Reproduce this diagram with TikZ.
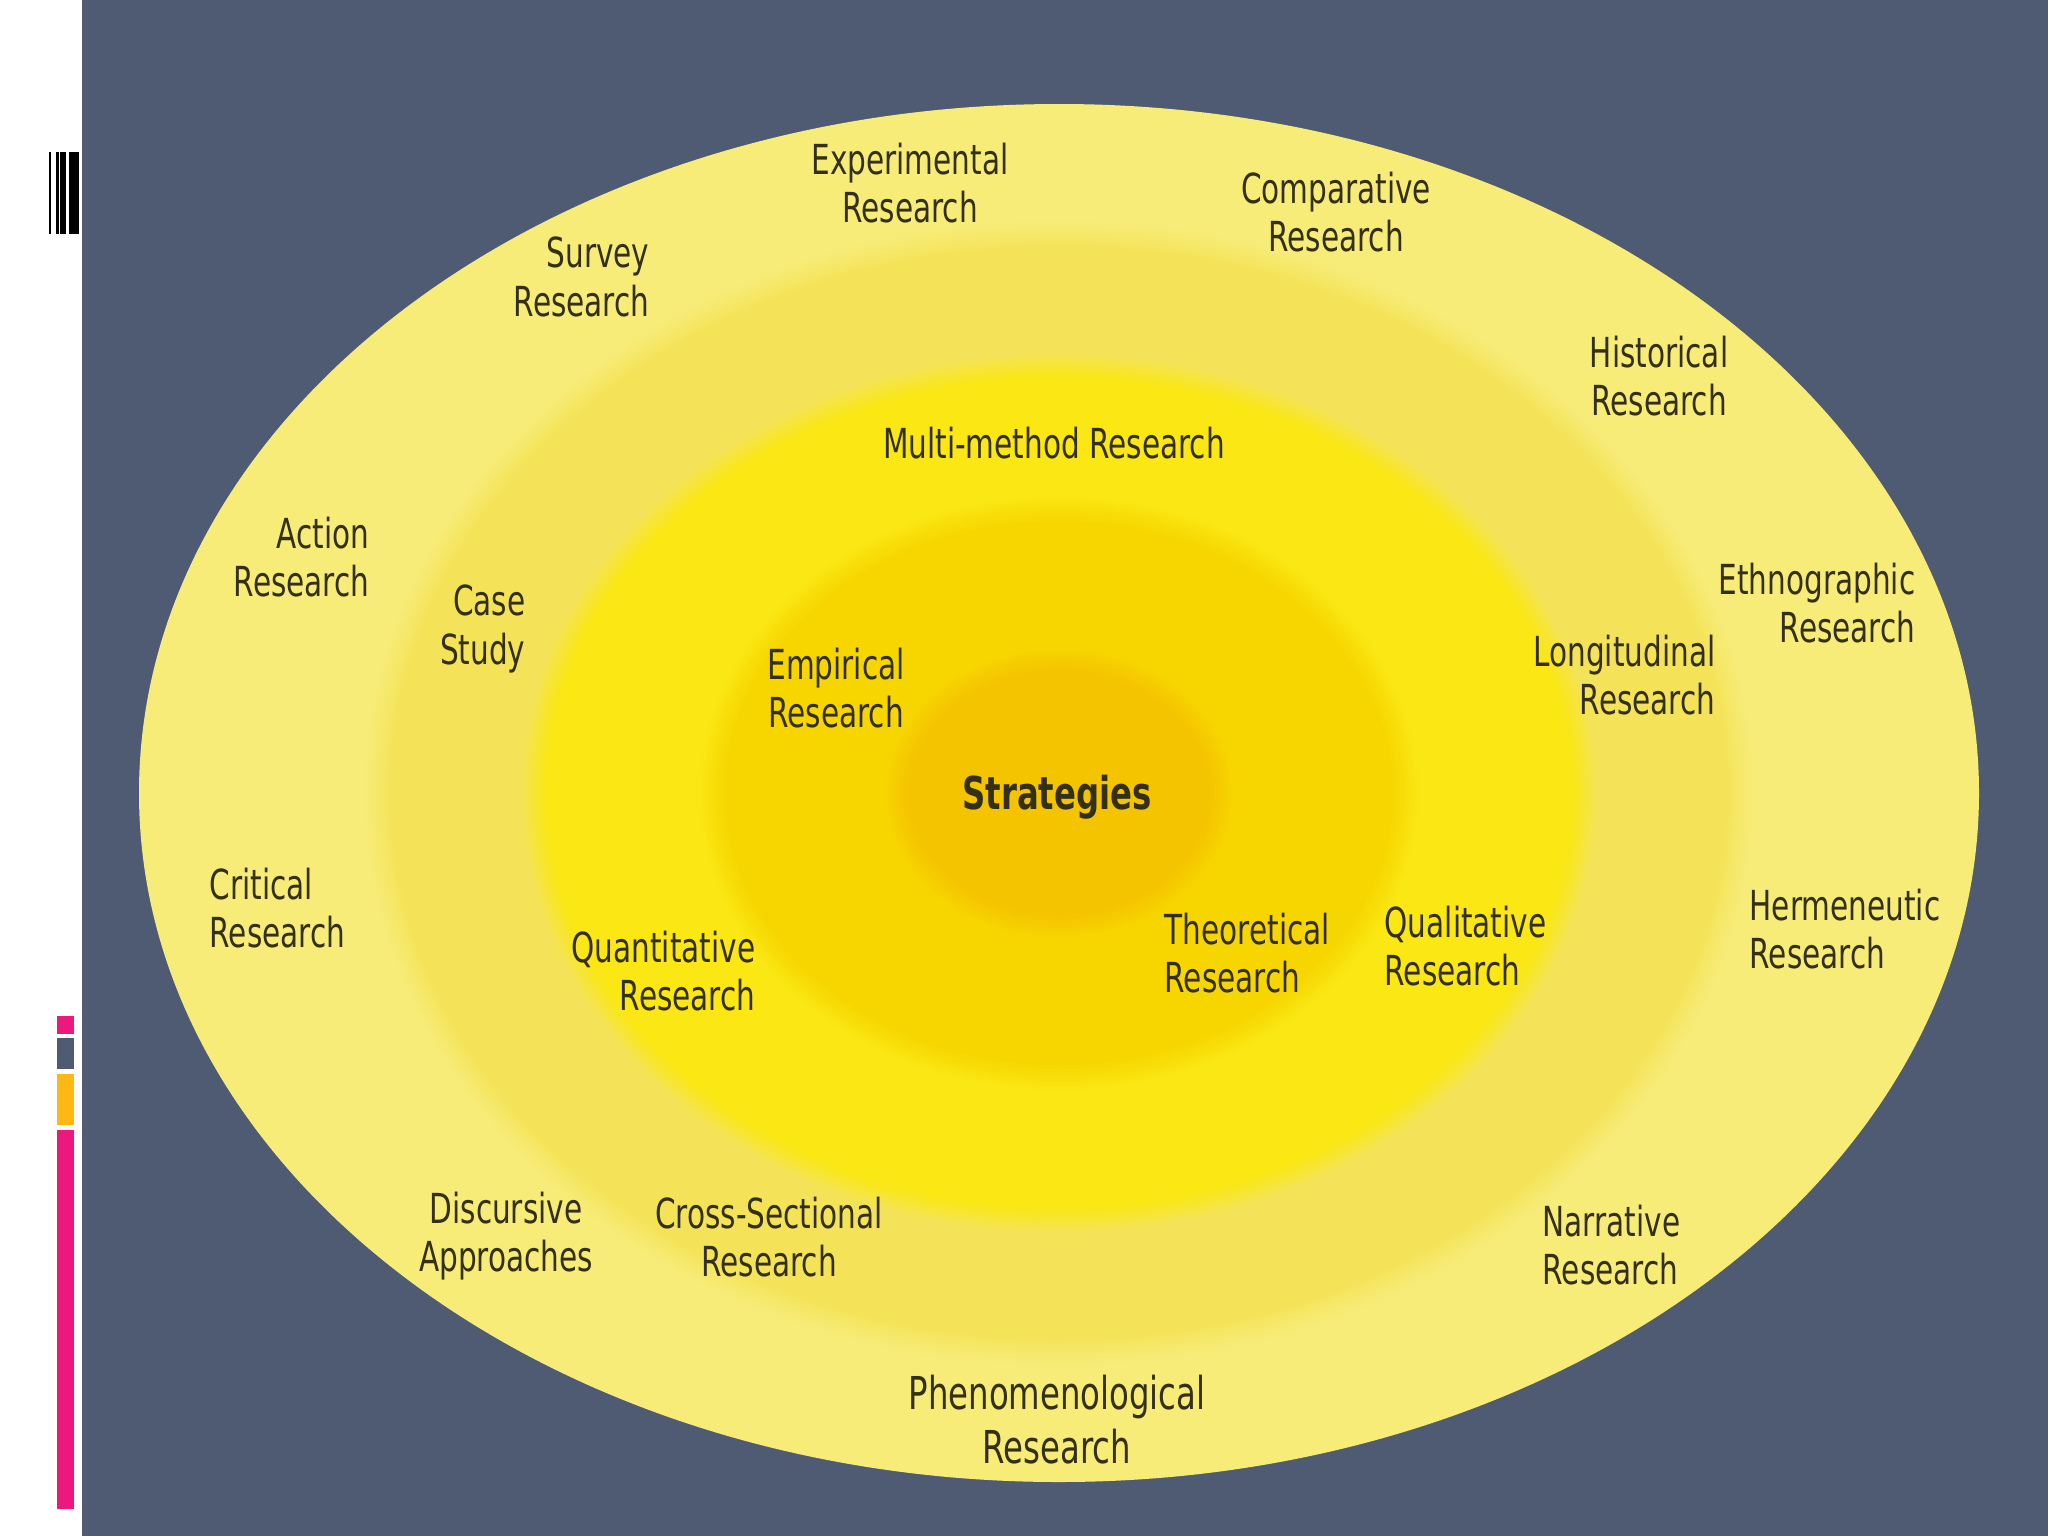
\documentclass[tikz,border=0pt]{standalone}
\usepackage{fontspec}
\setmainfont{DejaVu Sans}
\definecolor{slate}{RGB}{79,91,114}
\definecolor{magbar}{RGB}{236,24,125}
\definecolor{ambbar}{RGB}{253,184,19}
\definecolor{ring1}{RGB}{247,236,120}
\definecolor{ring2}{RGB}{244,227,88}
\definecolor{ring3}{RGB}{250,231,20}
\definecolor{ring4}{RGB}{247,214,0}
\definecolor{ring5}{RGB}{245,196,0}
\definecolor{ink}{RGB}{52,48,22}
\begin{document}
\begin{tikzpicture}[x=0.01cm, y=-0.01cm,
  lbl/.style={font=\fontsize{8.4}{9.8}\selectfont, text=ink, inner sep=0pt, yscale=1.4}]

  % --- 1. 背景 ---
  \useasboundingbox (0,0) rectangle (2048,1536);
  \fill[white] (0,0) rectangle (82,1536);
  \fill[slate] (82,0) rectangle (2048,1536);

  % 左上の縦線
  \fill[black] (49.3,152) rectangle (51.3,234);
  \fill[black] (56,152) rectangle (58.7,234);
  \fill[black] (60,152) rectangle (66.3,234);
  \fill[black] (69,152) rectangle (79.3,234);
  % 左下の色帯
  \fill[magbar] (57.3,1016) rectangle (74,1034);
  \fill[slate] (57.3,1038) rectangle (74,1069);
  \fill[ambbar] (57.3,1074) rectangle (74,1125);
  \fill[magbar] (57.3,1130) rectangle (74,1509);

  % --- 2. 同心楕円 (境界は少しぼかす) ---
  \coordinate (C) at (1059,793);
  \fill[ring1] (C) ellipse (920 and 689);
  \foreach \rx/\ry/\cin/\cout in {681/559/ring2/ring1, 526/428/ring3/ring2,
                                  347/285/ring4/ring3, 164/135/ring5/ring4}{
    \foreach \k in {0,...,7}{
      \pgfmathtruncatemacro\p{6+\k*12}
      \fill[\cin!\p!\cout] (C) ellipse ({\rx+12-3*\k} and {\ry+12-3*\k});
    }
    \fill[\cin] (C) ellipse ({\rx-13} and {\ry-13});
  }

  % --- 3. ラベル ---
  \node[lbl, align=center] (exp) at (910,183) {Experimental\\Research};
  \node[lbl, align=center] (comp) at (1336,212) {Comparative\\Research};
  \node[lbl, align=right, anchor=east] (survey) at (650,277) {Survey\\Research};
  \node[lbl, align=center] (hist) at (1659,376) {Historical\\Research};
  \node[lbl] (multi) at (1054,443) {Multi-method Research};
  \node[lbl, align=right, anchor=east] (action) at (370,557) {Action\\Research};
  \node[lbl, align=right, anchor=east] (case) at (526,629) {Case\\Study};
  \node[lbl, align=right, anchor=east] (ethno) at (1916,603) {Ethnographic\\Research};
  \node[lbl, align=center] (emp) at (836,688) {Empirical\\Research};
  \node[lbl, align=right, anchor=east] (longi) at (1716,675) {Longitudinal\\Research};
  \node[lbl, font=\fontsize{9.2}{10}\selectfont\bfseries] (strat) at (1057,797) {Strategies};
  \node[lbl, align=left, anchor=west] (crit) at (209,908) {Critical\\Research};
  \node[lbl, align=right, anchor=east] (quant) at (756,971) {Quantitative\\Research};
  \node[lbl, align=left, anchor=west] (theo) at (1164,953) {Theoretical\\Research};
  \node[lbl, align=left, anchor=west] (qual) at (1384,946) {Qualitative\\Research};
  \node[lbl, align=left, anchor=west] (herm) at (1749,929) {Hermeneutic\\Research};
  \node[lbl, align=center] (disc) at (506,1236) {Discursive\\Approaches};
  \node[lbl, align=center] (cross) at (769,1237) {Cross-Sectional\\Research};
  \node[lbl, align=left, anchor=west] (narr) at (1542,1245) {Narrative\\Research};
  \node[lbl, align=center, font=\fontsize{9.2}{11}\selectfont] (phen) at (1057,1420) {Phenomenological\\Research};
\end{tikzpicture}
\end{document}
